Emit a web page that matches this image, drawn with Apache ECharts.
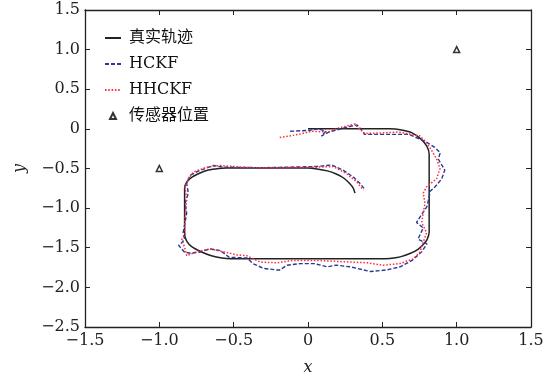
<!DOCTYPE html>
<html>
<head>
<meta charset="utf-8">
<script src="https://cdn.jsdelivr.net/npm/echarts@6/dist/echarts.min.js"></script>
<style>
  html, body { margin: 0; padding: 0; background: #fff; }
  #chart { width: 554px; height: 381px; }
</style>
</head>
<body>
<div id="chart"></div>
<script>
// axis ticks
const xTicks = [-1.5, -1.0, -0.5, 0, 0.5, 1.0, 1.5]
const yTicks = [-2.5, -2.0, -1.5, -1.0, -0.5, 0, 0.5, 1.0, 1.5]

// 真实轨迹
const truePath = [
  [0.0, 0.0], [0.55, 0.0], [0.62, -0.01], [0.70, -0.05], [0.76, -0.13], [0.80, -0.22], [0.815, -0.32],
  [0.815, -1.30], [0.80, -1.40], [0.775, -1.46], [0.74, -1.52], [0.69, -1.57], [0.62, -1.615], [0.55, -1.635],
  [0.48, -1.64], [-0.52, -1.64], [-0.58, -1.63], [-0.65, -1.60], [-0.72, -1.55], [-0.78, -1.49], [-0.815, -1.42], [-0.83, -1.33],
  [-0.83, -0.75], [-0.815, -0.67], [-0.78, -0.61], [-0.73, -0.56], [-0.67, -0.52], [-0.60, -0.50], [-0.55, -0.495],
  [0.0, -0.495], [0.06, -0.505], [0.13, -0.53], [0.19, -0.57], [0.24, -0.62], [0.28, -0.69], [0.305, -0.75], [0.316, -0.81]
]

// HCKF estimate
const hckf = [
  [-0.12, -0.03], [0.0, -0.02], [0.07, 0.0], [0.12, -0.03], [0.09, -0.09], [0.14, -0.04], [0.22, 0.0], [0.28, 0.03],
  [0.33, 0.05], [0.36, -0.01], [0.38, -0.07], [0.5, -0.07], [0.61, -0.07], [0.68, -0.07], [0.74, -0.12], [0.79, -0.16],
  [0.85, -0.23], [0.89, -0.3], [0.876, -0.38], [0.92, -0.52], [0.9, -0.63], [0.855, -0.73], [0.82, -0.79], [0.816, -0.85],
  [0.8, -0.98], [0.765, -1.08], [0.73, -1.18], [0.775, -1.25], [0.74, -1.39], [0.8, -1.45], [0.765, -1.55], [0.7, -1.66],
  [0.62, -1.74], [0.53, -1.78], [0.42, -1.8], [0.33, -1.76], [0.28, -1.74], [0.19, -1.72], [0.13, -1.74], [0.04, -1.7],
  [-0.05, -1.7], [-0.14, -1.72], [-0.19, -1.78], [-0.21, -1.78], [-0.3, -1.76], [-0.37, -1.7], [-0.41, -1.63], [-0.53, -1.62],
  [-0.59, -1.535], [-0.66, -1.515], [-0.73, -1.556], [-0.79, -1.57], [-0.83, -1.556], [-0.87, -1.47], [-0.85, -1.44],
  [-0.83, -1.39], [-0.84, -1.31], [-0.827, -1.185], [-0.816, -1.06], [-0.827, -0.94], [-0.805, -0.81], [-0.816, -0.69],
  [-0.794, -0.586], [-0.726, -0.524], [-0.637, -0.462], [-0.57, -0.483], [-0.3, -0.49], [0.058, -0.475], [0.159, -0.455],
  [0.238, -0.524], [0.305, -0.607], [0.35, -0.69], [0.383, -0.764]
]

// HHCKF estimate
const hhckf = [
  [-0.19, -0.11], [-0.065, -0.07], [0.025, -0.03], [0.137, -0.04], [0.204, 0.01], [0.316, 0.062], [0.338, 0.01],
  [0.383, -0.058], [0.5, -0.05], [0.607, -0.04], [0.697, -0.07], [0.753, -0.09], [0.787, -0.15], [0.82, -0.235],
  [0.865, -0.38], [0.888, -0.5], [0.865, -0.63], [0.798, -0.73], [0.775, -0.81], [0.787, -0.94], [0.775, -1.06],
  [0.765, -1.185], [0.798, -1.31], [0.775, -1.43], [0.753, -1.556], [0.708, -1.64], [0.619, -1.7], [0.506, -1.72],
  [0.4, -1.69], [0.282, -1.68], [0.17, -1.67], [0.058, -1.66], [-0.099, -1.66], [-0.21, -1.69], [-0.323, -1.68],
  [-0.39, -1.62], [-0.412, -1.6], [-0.48, -1.59], [-0.57, -1.55], [-0.659, -1.515], [-0.749, -1.55], [-0.816, -1.6],
  [-0.827, -1.515], [-0.849, -1.39], [-0.827, -1.33], [-0.83, -1.22], [-0.827, -1.1], [-0.816, -0.895], [-0.827, -0.73],
  [-0.805, -0.63], [-0.771, -0.545], [-0.681, -0.483], [-0.592, -0.462], [-0.39, -0.49], [-0.166, -0.49], [0.058, -0.483],
  [0.17, -0.475], [0.26, -0.566], [0.327, -0.669], [0.372, -0.77]
]

// 传感器位置
const sensors = [[1.0, 1.0], [-1.0, -0.5]]

const serif = "'DejaVu Serif', 'Noto Sans CJK SC', serif"
const fmt = (v) => v === 0 ? '0' : (v < 0 ? '\u2212' : '') + Math.abs(v).toFixed(1)
const axisLine = { show: true, onZero: false, lineStyle: { color: '#222', width: 1.3 } }
const tick = { show: true, inside: true, length: 5, lineStyle: { color: '#222', width: 1 } }

const chart = echarts.init(document.getElementById('chart'), null, { renderer: 'canvas' })
chart.setOption({
  animation: false,
  grid: { left: 85, right: 23, top: 10, bottom: 48 },
  xAxis: [
    {
      type: 'value', min: xTicks[0], max: xTicks[xTicks.length - 1], interval: 0.5,
      position: 'bottom',
      axisLine, axisTick: tick, splitLine: { show: false },
      axisLabel: { formatter: fmt, fontFamily: serif, fontSize: 16, color: '#222', margin: 6 },
      name: 'x', nameLocation: 'middle', nameGap: 33,
      nameTextStyle: { fontFamily: serif, fontStyle: 'italic', fontSize: 16, color: '#222' }
    },
    {
      type: 'value', min: xTicks[0], max: xTicks[xTicks.length - 1], interval: 0.5,
      position: 'top',
      axisLine, axisTick: tick, splitLine: { show: false }, axisLabel: { show: false }
    }
  ],
  yAxis: [
    {
      type: 'value', min: yTicks[0], max: yTicks[yTicks.length - 1], interval: 0.5,
      position: 'left',
      axisLine, axisTick: tick, splitLine: { show: false },
      axisLabel: { formatter: fmt, fontFamily: serif, fontSize: 16, color: '#222', margin: 5 },
      name: 'y', nameLocation: 'middle', nameGap: 57, nameRotate: 90,
      nameTextStyle: { fontFamily: serif, fontStyle: 'italic', fontSize: 16, color: '#222' }
    },
    {
      type: 'value', min: yTicks[0], max: yTicks[yTicks.length - 1], interval: 0.5,
      position: 'right',
      axisLine, axisTick: tick, splitLine: { show: false }, axisLabel: { show: false }
    }
  ],
  legend: [
    {
      data: ['真实轨迹', 'HCKF', 'HHCKF'],
      orient: 'vertical', left: 104, top: 30, padding: 0,
      itemWidth: 16, itemHeight: 10, itemGap: 10,
      itemStyle: { opacity: 0 },
      textStyle: { fontFamily: serif, fontSize: 16, color: '#111', padding: [0, 0, 0, 3] }
    },
    {
      data: ['传感器位置'],
      orient: 'vertical', left: 109, top: 108, padding: 0,
      itemWidth: 6, itemHeight: 6,
      textStyle: { fontFamily: serif, fontSize: 16, color: '#111', padding: [0, 0, 0, 8] }
    }
  ],
  series: [
    {
      name: '真实轨迹', type: 'line', data: truePath, smooth: 0.3, symbol: 'none',
      lineStyle: { color: '#222', width: 1.5 }, itemStyle: { color: '#222' }
    },
    {
      name: 'HCKF', type: 'line', data: hckf, symbol: 'none',
      lineStyle: { color: '#2b3796', width: 1.4, type: [4, 2] }, itemStyle: { color: '#2b3796' }
    },
    {
      name: 'HHCKF', type: 'line', data: hhckf, symbol: 'none',
      lineStyle: { color: '#ff2a3a', width: 1.5, type: [1.5, 1.8] }, itemStyle: { color: '#ff2a3a' }
    },
    {
      name: '传感器位置', type: 'scatter', data: sensors, symbol: 'triangle', symbolSize: 6,
      itemStyle: { color: '#fff', borderColor: '#000', borderWidth: 1.5 }
    }
  ]
})
</script>
</body>
</html>
